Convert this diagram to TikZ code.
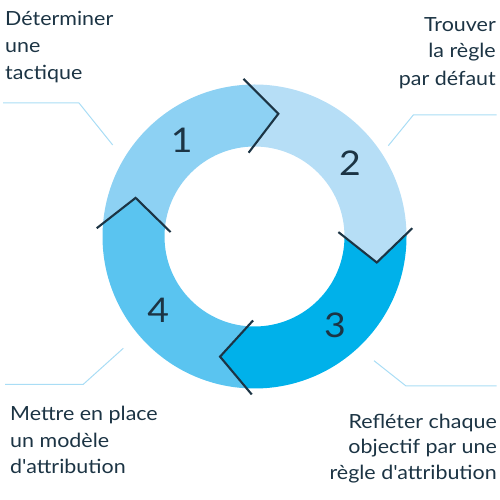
\documentclass[tikz,border=0pt]{standalone}
\usepackage{fontspec}
\setmainfont{Lato}[FakeStretch=1.1,Ligatures=TeXOff]
\definecolor{segA}{HTML}{8DD1F3}
\definecolor{segB}{HTML}{B6DEF6}
\definecolor{segC}{HTML}{00B1EA}
\definecolor{segD}{HTML}{5AC4F0}
\definecolor{ink}{HTML}{1C3444}
\definecolor{leader}{HTML}{A9DDF5}
\newcommand{\ringseg}[3]{%
  \fill[#1] (#2:158) -- ({#2-15}:125) -- (#2:84) -- (#3:84) -- ({#3-15}:125) -- (#3:158)
    arc[start angle=#3, end angle=#2, radius=158] -- cycle;}
\begin{document}
\begin{tikzpicture}[x=1pt,y=1pt,
  chev/.style={draw=ink,line width=2.1pt,miter limit=10},
  lead/.style={draw=leader,line width=1pt},
  lbl/.style={text=ink,inner sep=0pt,font=\fontsize{19.5}{27}\selectfont},
  num/.style={text=ink,inner sep=0pt,font=\fontsize{34}{40}\selectfont}]
\useasboundingbox (0,0) rectangle (500,500);
\coordinate (C) at (254.5,263.5);
\begin{scope}[shift={(C)}]
  \begin{scope}[even odd rule]
    \clip (0,0) circle[radius=152] (0,0) circle[radius=90];
    \ringseg{segA}{177}{94}
    \ringseg{segB}{94}{3}
    \ringseg{segC}{3}{-91}
    \ringseg{segD}{-91}{-183}
  \end{scope}
  \foreach \b in {94,3,-91,177}
    \draw[chev] (\b:158) -- ({\b-15}:125) -- (\b:84);
\end{scope}
% numbers
\node[num] (n1) at (181.7,360) {1};
\node[num] (n2) at (350,336.7) {2};
\node[num] (n3) at (335,175) {3};
\node[num] (n4) at (158.3,190) {4};
% leader lines
\coordinate (l1a) at (3,397); \coordinate (l1b) at (79,397); \coordinate (l1c) at (112.7,355);
\draw[lead] (l1a) -- (l1b) -- (l1c);
\coordinate (l2a) at (496.7,385); \coordinate (l2b) at (413.3,385); \coordinate (l2c) at (388.3,354.3);
\draw[lead] (l2a) -- (l2b) -- (l2c);
\coordinate (l4a) at (5,115.7); \coordinate (l4b) at (83.3,115.7); \coordinate (l4c) at (123.3,151.7);
\draw[lead] (l4a) -- (l4b) -- (l4c);
\coordinate (l3a) at (374,139.3); \coordinate (l3b) at (406,114); \coordinate (l3c) at (496.7,114);
\draw[lead] (l3a) -- (l3b) -- (l3c);
% labels
\node[lbl,anchor=base west] (t1a) at (5,474) {Déterminer};
\node[lbl,anchor=base west] (t1b) at (5,447) {une};
\node[lbl,anchor=base west] (t1c) at (5,420.5) {tactique};
\node[lbl,anchor=base east] (t2a) at (496,468) {Trouver};
\node[lbl,anchor=base east] (t2b) at (496,442) {la règle};
\node[lbl,anchor=base east] (t2c) at (496,414.5) {par défaut};
\node[lbl,anchor=base west] (t4a) at (10,79.3) {Mettre en place};
\node[lbl,anchor=base west] (t4b) at (10,52) {un modèle};
\node[lbl,anchor=base west] (t4c) at (10,26) {d'attribution};
\node[lbl,anchor=base east] (t3a) at (497,71) {Refléter chaque};
\node[lbl,anchor=base east] (t3b) at (497,46.5) {objectif par une};
\node[lbl,anchor=base east] (t3c) at (497,20) {règle d'attribution};
\end{tikzpicture}
\end{document}
